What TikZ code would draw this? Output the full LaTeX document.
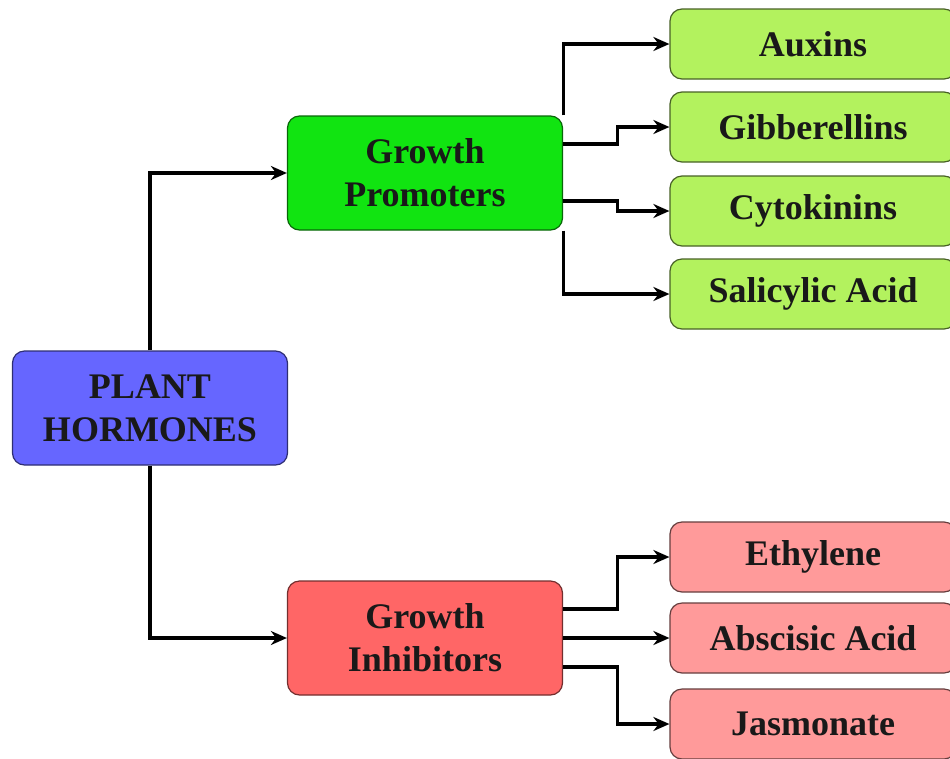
\documentclass[tikz,border=0pt]{standalone}
\usepackage{fontspec}
\setmainfont{Liberation Serif}
\usetikzlibrary{arrows.meta}

\definecolor{hormblue}{HTML}{6666FF}
\definecolor{promgreen}{HTML}{11E411}
\definecolor{leafgreen}{HTML}{B3F25E}
\definecolor{inhred}{HTML}{FF6666}
\definecolor{leafred}{HTML}{FF9A9A}

\tikzset{
    box/.style={draw, rounded corners=12pt, line width=1.2pt, align=center, inner sep=0pt,
        font=\fontsize{36}{43}\selectfont\bfseries, text=black!90},
    midbox/.style={box, minimum width=275pt, minimum height=114pt},
    leafbox/.style={box, minimum width=286pt, minimum height=70pt},
    arr/.style={line width=3.2pt, -{Stealth[length=16pt,width=14pt]}}
}

\begin{document}
\begin{tikzpicture}[x=1pt, y=-1pt]
        \useasboundingbox (0,0) rectangle (950,758);
        \node[midbox, fill=hormblue, draw=hormblue!45!black](plant) at (150,408){PLANT\\HORMONES};
        \node[midbox, fill=promgreen, draw=promgreen!45!black](prom) at (425,173){Growth\\Promoters};
        \node[midbox, fill=inhred, draw=inhred!45!black](inh) at (425,638){Growth\\Inhibitors};
        \node[leafbox, fill=leafgreen, draw=leafgreen!40!black](aux) at (813,44){Auxins};
        \node[leafbox, fill=leafgreen, draw=leafgreen!40!black](gib) at (813,127){Gibberellins};
        \node[leafbox, fill=leafgreen, draw=leafgreen!40!black](cyt) at (813,211){Cytokinins};
        \node[leafbox, fill=leafgreen, draw=leafgreen!40!black](sal) at (813,294){Salicylic Acid};
        \node[leafbox, fill=leafred, draw=leafred!40!black](eth) at (813,557){Ethylene};
        \node[leafbox, fill=leafred, draw=leafred!40!black](abs) at (813,638){Abscisic Acid};
        \node[leafbox, fill=leafred, draw=leafred!40!black](jas) at (813,724){Jasmonate};
        \draw[arr](plant.north) |- (prom.west);
        \draw[arr](plant.south) |- (inh.west);
        \draw[arr](prom.north east) |- (aux.west);
        \draw[arr]([yshift=29pt]prom.east) -- ++(54,0) |- (gib.west);
        \draw[arr]([yshift=-28pt]prom.east) -- ++(54,0) |- (cyt.west);
        \draw[arr](prom.south east) |- (sal.west);
        \draw[arr]([yshift=29pt]inh.east) -- ++(54,0) |- (eth.west);
        \draw[arr](inh.east) -- (abs.west);
        \draw[arr]([yshift=-29pt]inh.east) -- ++(54,0) |- (jas.west);
    \end{tikzpicture}
\end{document}
